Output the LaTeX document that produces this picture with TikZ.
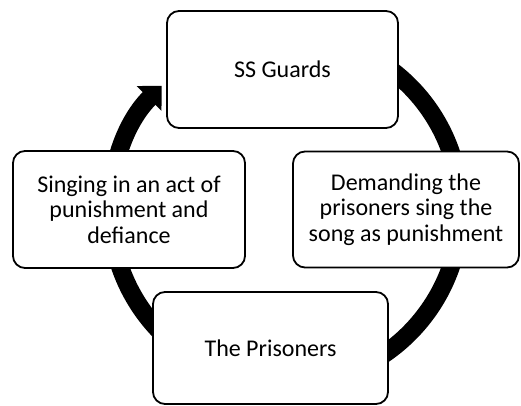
\documentclass[tikz,border=0pt]{standalone}
\usepackage{fontspec}
\setmainfont{Carlito}
\usepackage{tikz}
\usetikzlibrary{arrows.meta}
\tikzset{
    stage/.style={
           rectangle,
           rounded corners=12pt,
           draw=black, line width=1.8pt,
           fill=white,
           inner sep=0pt,
           align=center,
           font=\fontsize{24}{25.5}\selectfont,
           },
    ringarrow/.style={
           draw=black,
           line width=18pt,
           },
}

\begin{document}
\begin{tikzpicture}[x=1pt,y=1pt]
    \useasboundingbox (0,0) rectangle (521,406);

    % centre of the cycle
    \coordinate (hub) at (285.5,196.5);

    % the ring behind the boxes, arrow head just left of the guards
    \draw[ringarrow, -{Triangle[width=34pt,length=18pt]}]
        (hub) ++(460:175) arc[start angle=460, end angle=135, radius=175];

    % Stage: top
    \node[stage,
    minimum width=231pt,	% box size
    minimum height=117pt] (guards)
    at (282.5,336.5)
    {SS Guards};

    % Stage: right
    \node[stage,
    minimum width=226pt,
    minimum height=116pt] (demand)
    at (406,196.5)
    {Demanding the\\ prisoners sing the\\ song as punishment};

    % Stage: bottom
    \node[stage,
    minimum width=235pt,
    minimum height=112pt] (prisoners)
    at (270.5,58)
    {The Prisoners};

    % Stage: left
    \node[stage,
    minimum width=232pt,
    minimum height=117pt] (singing)
    at (129,196.5)
    {Singing in an act of\\ punishment and\\ defiance};
\end{tikzpicture}
\end{document}
